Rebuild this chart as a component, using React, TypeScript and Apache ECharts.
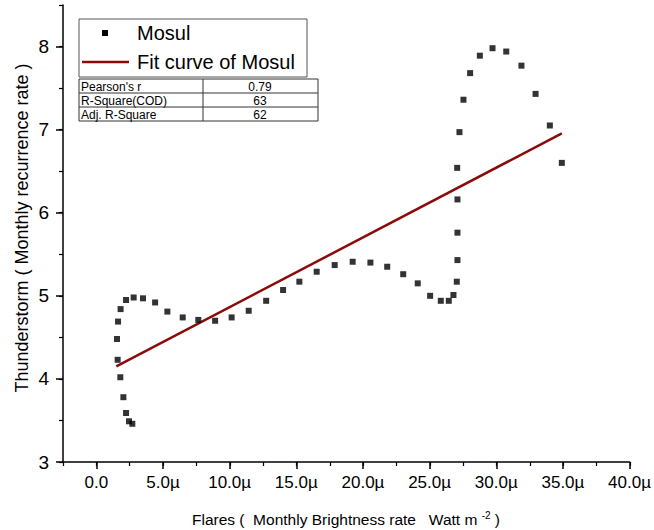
import React, { useEffect, useRef } from "react";
import * as echarts from "echarts";

// Monthly brightness rate of flares (µW m^-2) and thunderstorm recurrence rate, Mosul
const flaresMu = [
  2.70, 2.45, 2.23, 2.03, 1.80, 1.60, 1.55, 1.63, 1.82, 2.23, 2.80, 3.50,
  4.41, 5.33, 6.48, 7.65, 8.91, 10.15, 11.43, 12.74, 14.01, 15.23, 16.53, 17.88,
  19.23, 20.56, 21.82, 23.02, 24.11, 25.04, 25.84, 26.44, 26.79, 27.04, 27.09, 27.09,
  27.09, 27.07, 27.24, 27.54, 28.04, 28.77, 29.72, 30.75, 31.89, 32.95, 34.02, 34.92,
];
const thunderRate = [
  3.46, 3.49, 3.59, 3.78, 4.02, 4.23, 4.48, 4.69, 4.84, 4.95, 4.98, 4.97,
  4.92, 4.81, 4.74, 4.71, 4.70, 4.74, 4.82, 4.94, 5.07, 5.17, 5.29, 5.37,
  5.41, 5.40, 5.35, 5.26, 5.15, 5.00, 4.94, 4.94, 5.01, 5.17, 5.43, 5.76,
  6.16, 6.54, 6.97, 7.36, 7.68, 7.89, 7.98, 7.94, 7.77, 7.43, 7.05, 6.60,
];

// Linear fit end points
const fitX = [1.5, 34.92];
const fitY = [4.15, 6.955];

// Fit statistics table
const statNames = ["Pearson's r", "R-Square(COD)", "Adj. R-Square"];
const statValues = ["0.79", "63", "62"];

const xMajor = [0, 5, 10, 15, 20, 25, 30, 35, 40];
const yMajor = [3, 4, 5, 6, 7, 8];

const FONT = "'Liberation Sans', Arial, sans-serif";
const FIT_COLOR = "#8b0a0a";

export default function App() {
  const ref = useRef<HTMLDivElement>(null);

  useEffect(() => {
    if (!ref.current) return;
    const chart = echarts.init(ref.current, null, { renderer: "svg" });

    const grid = { left: 63, right: 24, top: 5, bottom: 68 };
    const tableTop = 79;
    const rowH = 14;

    const tableGraphics: any[] = [
      {
        type: "rect",
        shape: { x: 79, y: tableTop, width: 239, height: rowH * 3 },
        style: { fill: "#fff", stroke: "#333", lineWidth: 1 },
      },
      {
        type: "line",
        shape: { x1: 203, y1: tableTop, x2: 203, y2: tableTop + rowH * 3 },
        style: { stroke: "#333", lineWidth: 1 },
      },
    ];
    statNames.forEach((name, i) => {
      if (i > 0) {
        tableGraphics.push({
          type: "line",
          shape: { x1: 79, y1: tableTop + rowH * i, x2: 318, y2: tableTop + rowH * i },
          style: { stroke: "#333", lineWidth: 1 },
        });
      }
      tableGraphics.push({
        type: "text",
        x: 81,
        y: tableTop + rowH * i + rowH / 2 + 0.5,
        style: { text: name, font: `12px ${FONT}`, fill: "#000", textVerticalAlign: "middle" },
      });
      tableGraphics.push({
        type: "text",
        x: 260,
        y: tableTop + rowH * i + rowH / 2 + 0.5,
        style: {
          text: statValues[i],
          font: `12px ${FONT}`,
          fill: "#000",
          textAlign: "center",
          textVerticalAlign: "middle",
        },
      });
    });

    chart.setOption({
      animation: false,
      backgroundColor: "#fff",
      grid: [
        { ...grid },
        { ...grid },
      ],
      xAxis: [
        {
          gridIndex: 0,
          type: "value",
          min: -2.5,
          max: 40,
          interval: 2.5,
          axisLine: { show: true, onZero: false, lineStyle: { color: "#000", width: 1.5 } },
          axisTick: { show: true, customValues: xMajor, length: 7, lineStyle: { color: "#000", width: 1.5 } },
          axisLabel: {
            customValues: xMajor,
            margin: 12,
            color: "#000",
            fontSize: 17,
            fontFamily: FONT,
            formatter: (v: number) => (v === 0 ? "0.0" : v.toFixed(1) + "µ"),
          },
          splitLine: { show: false },
        },
        {
          gridIndex: 1,
          type: "value",
          min: -2.5,
          max: 40,
          interval: 2.5,
          axisLine: { show: false, onZero: false },
          axisTick: { show: true, length: 4, lineStyle: { color: "#000", width: 1.2 } },
          axisLabel: { show: false },
          splitLine: { show: false },
        },
      ],
      yAxis: [
        {
          gridIndex: 0,
          type: "value",
          min: 3,
          max: 8.5,
          interval: 0.5,
          axisLine: { show: true, onZero: false, lineStyle: { color: "#000", width: 1.5 } },
          axisTick: { show: true, customValues: yMajor, length: 7, lineStyle: { color: "#000", width: 1.5 } },
          axisLabel: {
            customValues: yMajor,
            margin: 14,
            color: "#000",
            fontSize: 19,
            fontFamily: FONT,
          },
          splitLine: { show: false },
        },
        {
          gridIndex: 1,
          type: "value",
          min: 3,
          max: 8.5,
          interval: 0.5,
          axisLine: { show: false, onZero: false },
          axisTick: { show: true, length: 4, lineStyle: { color: "#000", width: 1.2 } },
          axisLabel: { show: false },
          splitLine: { show: false },
        },
      ],
      series: [
        {
          name: "Mosul",
          type: "scatter",
          xAxisIndex: 0,
          yAxisIndex: 0,
          symbol: "rect",
          symbolSize: 6,
          itemStyle: { color: "#000" },
          data: flaresMu.map((x, i) => [x, thunderRate[i]]),
          z: 3,
        },
        {
          name: "Fit curve of Mosul",
          type: "line",
          xAxisIndex: 0,
          yAxisIndex: 0,
          symbol: "none",
          lineStyle: { color: FIT_COLOR, width: 2.5 },
          data: fitX.map((x, i) => [x, fitY[i]]),
          z: 2,
        },
      ],
      graphic: [
        // legend
        {
          type: "rect",
          shape: { x: 79, y: 19, width: 228, height: 58 },
          style: { fill: "#fff", stroke: "#555", lineWidth: 1 },
        },
        {
          type: "rect",
          shape: { x: 102, y: 30, width: 6, height: 6 },
          style: { fill: "#000" },
        },
        {
          type: "text",
          x: 137,
          y: 33,
          style: { text: "Mosul", font: `20px ${FONT}`, fill: "#000", textVerticalAlign: "middle" },
        },
        {
          type: "line",
          shape: { x1: 82, y1: 62, x2: 129, y2: 62 },
          style: { stroke: FIT_COLOR, lineWidth: 2.5 },
        },
        {
          type: "text",
          x: 137,
          y: 62,
          style: { text: "Fit curve of Mosul", font: `20px ${FONT}`, fill: "#000", textVerticalAlign: "middle" },
        },
        ...tableGraphics,
        // axis titles
        {
          type: "text",
          x: 22,
          y: 228,
          rotation: Math.PI / 2,
          style: {
            text: "Thunderstorm ( Monthly recurrence rate )",
            font: `18px ${FONT}`,
            fill: "#000",
            textAlign: "center",
            textVerticalAlign: "middle",
          },
        },
        {
          type: "text",
          x: 346,
          y: 519,
          style: {
            text: "{a|Flares (  Monthly Brightness rate   Watt m }{s|-2}{a| )}",
            textAlign: "center",
            textVerticalAlign: "middle",
            rich: {
              a: { font: `15.5px ${FONT}`, fill: "#000", verticalAlign: "bottom" },
              s: { font: `10px ${FONT}`, fill: "#000", verticalAlign: "top", padding: [0, 0, 7, 0] },
            },
          },
        },
      ],
    });

    return () => chart.dispose();
  }, []);

  return (
    <div
      ref={ref}
      style={{ position: "fixed", left: 0, top: 0, width: 654, height: 530, background: "#fff" }}
    />
  );
}
